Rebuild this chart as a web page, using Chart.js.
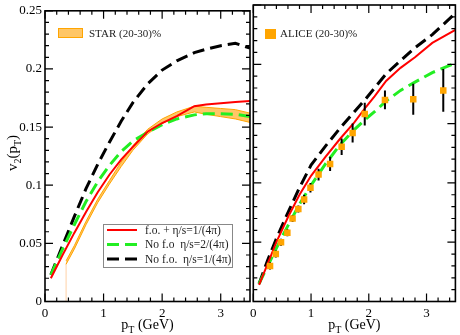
<!DOCTYPE html>
<html>
<head>
<meta charset="utf-8">
<script src="https://cdn.jsdelivr.net/npm/chart.js@4.4.1/dist/chart.umd.min.js"></script>
<style>
html,body{margin:0;padding:0;background:#fff;overflow:hidden}
#wrap{position:relative;width:460px;height:335px}
canvas{position:absolute;left:0;top:0}
</style>
</head>
<body>
<div id="wrap">
<canvas id="cL" width="460" height="335"></canvas>
<canvas id="cR" width="460" height="335"></canvas>
</div>
<script>
// ---------------- DATA ----------------
// tick values / labels
const xTickVals = [0, 1, 2, 3];
const xTickLabels = ['0', '1', '2', '3'];
const yTickVals = [0, 0.05, 0.1, 0.15, 0.2, 0.25];
const yTickLabels = ['0', '0.05', '0.1', '0.15', '0.2', '0.25'];

// left panel (STAR comparison) theory curves
const leftPt    = [0.1, 0.3, 0.5, 0.7, 0.9, 1.1, 1.3, 1.5, 1.75, 2.0, 2.25, 2.55, 2.75, 3.0, 3.25, 3.5];
const leftRed   = [0.020, 0.040, 0.059, 0.077, 0.094, 0.109, 0.122, 0.133, 0.146, 0.1535, 0.1595, 0.168, 0.1695, 0.1705, 0.1715, 0.1725];
const leftGreen = [0.023, 0.045, 0.066, 0.086, 0.103, 0.117, 0.129, 0.138, 0.1455, 0.152, 0.157, 0.1605, 0.1615, 0.1615, 0.161, 0.159];
const leftBlack = [0.023, 0.048, 0.073, 0.097, 0.118, 0.137, 0.155, 0.171, 0.187, 0.199, 0.207, 0.214, 0.217, 0.220, 0.222, 0.218];

// STAR (20-30)% band
const starPt = [0.36, 0.5, 0.7, 0.9, 1.1, 1.3, 1.5, 1.75, 2.0, 2.25, 2.55, 2.75, 3.0, 3.25, 3.5];
const starLo = [0.032, 0.045, 0.066, 0.085, 0.101, 0.116, 0.130, 0.144, 0.153, 0.159, 0.163, 0.161, 0.159, 0.157, 0.154];
const starHi = [0.035, 0.048, 0.069, 0.088, 0.104, 0.120, 0.134, 0.148, 0.157, 0.163, 0.168, 0.167, 0.166, 0.165, 0.162];
const starEdgePt = [0.36, 0.36];
const starEdgeV  = [0, 0.033];

// right panel (ALICE comparison) theory curves
const rightPt    = [0.1, 0.25, 0.4, 0.6, 0.8, 1.0, 1.25, 1.5, 1.75, 1.95, 2.1, 2.3, 2.55, 2.8, 3.1, 3.5];
const rightRed   = [0.014, 0.032, 0.050, 0.071, 0.090, 0.106, 0.122, 0.137, 0.151, 0.164, 0.173, 0.186, 0.197, 0.206, 0.218, 0.229];
const rightGreen = [0.015, 0.030, 0.045, 0.064, 0.082, 0.098, 0.116, 0.132, 0.145, 0.154, 0.160, 0.169, 0.178, 0.185, 0.193, 0.201];
const rightBlack = [0.015, 0.035, 0.053, 0.075, 0.096, 0.115, 0.131, 0.146, 0.160, 0.171, 0.180, 0.192, 0.203, 0.214, 0.225, 0.243];

// ALICE (20-30)% data
const alicePt  = [0.29, 0.39, 0.48, 0.59, 0.68, 0.78, 0.88, 0.99, 1.13, 1.33, 1.53, 1.72, 1.93, 2.28, 2.77, 3.29];
const aliceV   = [0.030, 0.040, 0.050, 0.058, 0.070, 0.078, 0.086, 0.096, 0.107, 0.116, 0.1305, 0.142, 0.158, 0.170, 0.1705, 0.178];
const aliceErr = [0.003, 0.003, 0.003, 0.003, 0.003, 0.003, 0.004, 0.004, 0.005, 0.006, 0.007, 0.008, 0.0095, 0.008, 0.013, 0.018];

// legend texts
const lineLabels = ['f.o. + \u03B7/s=1/(4\u03C0)', 'No f.o  \u03B7/s=2/(4\u03C0)', 'No f.o.  \u03B7/s=1/(4\u03C0)'];
const starLabel = 'STAR (20-30)%';
const aliceLabel = 'ALICE (20-30)%';

// ---------------- STYLE ----------------
const FONT = "'Liberation Serif','Times New Roman',serif";
const X_MINOR = 0.2, Y_MINOR = 0.01, MAJOR_LEN = 8, MINOR_LEN = 4;
const RED = '#ff0000', GREEN = '#22ee22', BLACK = '#000000', ORANGE = '#ffa500';
const BAND_FILL = 'rgba(255,160,0,0.6)';
const LEG_FONT = 11;

const zip = (xs, ys) => xs.map((x, i) => ({x: x, y: ys[i]}));

function lineDs(label, xs, ys, color, width, dash, order) {
  return {label: label, data: zip(xs, ys), borderColor: color, backgroundColor: color,
    borderWidth: width, borderDash: dash, pointRadius: 0, tension: 0, fill: false, order: order};
}

const framePlugin = {
  id: 'frameTicks',
  afterDraw(chart) {
    const ctx = chart.ctx, a = chart.chartArea;
    const xs = chart.scales.x, ys = chart.scales.y;
    ctx.save();
    ctx.strokeStyle = '#000';
    ctx.lineWidth = 1.2;
    ctx.beginPath();
    const nx = Math.floor((xs.max - xs.min) / X_MINOR + 1e-6);
    for (let i = 0; i <= nx; i++) {
      const v = xs.min + i * X_MINOR;
      const L = (i % 5 === 0) ? MAJOR_LEN : MINOR_LEN;
      const p = xs.getPixelForValue(v);
      ctx.moveTo(p, a.bottom); ctx.lineTo(p, a.bottom - L);
      ctx.moveTo(p, a.top); ctx.lineTo(p, a.top + L);
    }
    const ny = Math.floor((ys.max - ys.min) / Y_MINOR + 1e-6);
    for (let i = 0; i <= ny; i++) {
      const v = ys.min + i * Y_MINOR;
      const L = (i % 5 === 0) ? MAJOR_LEN : MINOR_LEN;
      const p = ys.getPixelForValue(v);
      ctx.moveTo(a.left, p); ctx.lineTo(a.left + L, p);
      ctx.moveTo(a.right, p); ctx.lineTo(a.right - L, p);
    }
    ctx.stroke();
    ctx.lineWidth = 1.6;
    ctx.strokeRect(a.left, a.top, a.right - a.left, a.bottom - a.top);
    ctx.restore();
  }
};

function drawSubText(ctx, parts, x, y, size, subSize, align) {
  // parts: [text, isSub]
  let w = 0;
  parts.forEach(p => { ctx.font = (p[1] ? subSize : size) + 'px ' + FONT; w += ctx.measureText(p[0]).width; });
  let cx = align === 'center' ? x - w / 2 : x;
  parts.forEach(p => {
    ctx.font = (p[1] ? subSize : size) + 'px ' + FONT;
    ctx.fillText(p[0], cx, p[1] ? y + 4 : y);
    cx += ctx.measureText(p[0]).width;
  });
}

function xTitle(chart) {
  const ctx = chart.ctx, a = chart.chartArea;
  ctx.save();
  ctx.fillStyle = '#000';
  ctx.textBaseline = 'alphabetic';
  drawSubText(ctx, [['p', false], ['T', true], [' (GeV)', false]], (a.left + a.right) / 2, 329, 14, 10, 'center');
  ctx.restore();
}

function yAxisScales(hide) {
  return {
    type: 'linear', min: 0, max: 0.25, display: !hide,
    afterFit: s => { s.width = hide ? 0 : 45; },
    afterBuildTicks: s => { s.ticks = yTickVals.map(v => ({value: v})); },
    grid: {display: false, drawTicks: false}, border: {display: false},
    ticks: {padding: 3, color: '#000', font: {family: FONT, size: 13},
      callback: (v, i) => yTickLabels[i]}
  };
}
function xAxisScale() {
  return {
    type: 'linear', min: 0, max: 3.5,
    afterFit: s => { s.height = 33.5; },
    afterBuildTicks: s => { s.ticks = xTickVals.map(v => ({value: v})); },
    grid: {display: false, drawTicks: false}, border: {display: false},
    ticks: {padding: 4, color: '#000', maxRotation: 0, font: {family: FONT, size: 13},
      callback: (v, i) => xTickLabels[i]}
  };
}

// ---------------- LEFT PANEL ----------------
const leftDecor = {
  id: 'leftDecor',
  afterDraw(chart) {
    const ctx = chart.ctx;
    const ds = chart.data.datasets;
    ctx.save();
    // y title v2(pT)
    ctx.translate(17, 153);
    ctx.rotate(-Math.PI / 2);
    ctx.fillStyle = '#000';
    drawSubText(ctx, [['v', false], ['2', true], ['(p', false], ['T', true], [')', false]], 0, 0, 15, 10, 'center');
    ctx.restore();
    xTitle(chart);
    ctx.save();
    // STAR legend swatch
    ctx.fillStyle = BAND_FILL;
    ctx.fillRect(58, 28, 25, 10);
    ctx.strokeStyle = ORANGE; ctx.lineWidth = 1;
    ctx.strokeRect(58.5, 28.5, 24, 9);
    ctx.fillStyle = '#222';
    ctx.font = LEG_FONT + 'px ' + FONT;
    ctx.textBaseline = 'middle';
    ctx.fillText(starLabel, 89, 34);
    // lines legend box
    ctx.strokeStyle = '#888'; ctx.lineWidth = 1;
    ctx.strokeRect(103.5, 224.5, 129, 43);
    const entries = [ds[5], ds[4], ds[3]];
    const ys = [230, 244.5, 259];
    entries.forEach((d, i) => {
      ctx.strokeStyle = d.borderColor;
      ctx.lineWidth = d.borderWidth;
      ctx.setLineDash(d.borderDash || []);
      ctx.beginPath(); ctx.moveTo(107, ys[i]); ctx.lineTo(137, ys[i]); ctx.stroke();
      ctx.setLineDash([]);
      ctx.fillStyle = '#222';
      ctx.font = (LEG_FONT + 0.5) + 'px ' + FONT;
      ctx.fillText(lineLabels[i], 145, ys[i] + 0.5);
    });
    ctx.restore();
  }
};

new Chart(document.getElementById('cL'), {
  type: 'line',
  data: {datasets: [
    {label: 'STAR low', data: zip(starPt, starLo), borderColor: ORANGE, borderWidth: 1, pointRadius: 0, fill: false, order: 6},
    {label: starLabel, data: zip(starPt, starHi), borderColor: ORANGE, borderWidth: 1, pointRadius: 0, fill: '-1', backgroundColor: BAND_FILL, order: 5},
    {label: 'STAR edge', data: zip(starEdgePt, starEdgeV), borderColor: 'rgba(255,190,130,0.7)', borderWidth: 1, pointRadius: 0, fill: false, order: 7},
    lineDs(lineLabels[2], leftPt, leftBlack, BLACK, 3, [12, 6], 3),
    lineDs(lineLabels[1], leftPt, leftGreen, GREEN, 3, [12, 6], 2),
    lineDs(lineLabels[0], leftPt, leftRed, RED, 2, [], 1)
  ]},
  options: {
    responsive: false, animation: false, devicePixelRatio: 1,
    layout: {padding: {left: 0, right: 210, top: 5, bottom: 0}},
    scales: {x: xAxisScale(), y: yAxisScales(false)},
    plugins: {legend: {display: false}, tooltip: {enabled: false}}
  },
  plugins: [framePlugin, leftDecor]
});

// ---------------- RIGHT PANEL ----------------
const aliceIndex = 3;
const rightDecor = {
  id: 'rightDecor',
  beforeDatasetDraw(chart, args) {
    if (args.index !== aliceIndex) return;
    const ctx = chart.ctx, xs = chart.scales.x, ys = chart.scales.y;
    ctx.save();
    ctx.strokeStyle = '#000';
    ctx.lineWidth = 2;
    ctx.beginPath();
    alicePt.forEach((p, i) => {
      const px = xs.getPixelForValue(p);
      ctx.moveTo(px, ys.getPixelForValue(aliceV[i] - aliceErr[i]));
      ctx.lineTo(px, ys.getPixelForValue(aliceV[i] + aliceErr[i]));
    });
    ctx.stroke();
    ctx.restore();
  },
  afterDraw(chart) {
    const ctx = chart.ctx;
    xTitle(chart);
    ctx.save();
    ctx.fillStyle = ORANGE;
    ctx.fillRect(265, 29, 11, 10);
    ctx.fillStyle = '#222';
    ctx.font = LEG_FONT + 'px ' + FONT;
    ctx.textBaseline = 'middle';
    ctx.fillText(aliceLabel, 280, 34);
    ctx.restore();
  }
};

new Chart(document.getElementById('cR'), {
  type: 'line',
  data: {datasets: [
    lineDs(lineLabels[2], rightPt, rightBlack, BLACK, 3, [12, 6], 3),
    lineDs(lineLabels[1], rightPt, rightGreen, GREEN, 3, [12, 6], 2),
    lineDs(lineLabels[0], rightPt, rightRed, RED, 2, [], 1),
    {label: aliceLabel, data: zip(alicePt, aliceV), showLine: false, pointStyle: 'rect',
      pointRadius: 4.6, pointBackgroundColor: ORANGE, pointBorderColor: ORANGE, pointBorderWidth: 0, order: 0}
  ]},
  options: {
    responsive: false, animation: false, devicePixelRatio: 1,
    layout: {padding: {left: 253.3, right: 2.3, top: 5, bottom: 0}},
    scales: {x: xAxisScale(), y: yAxisScales(true)},
    plugins: {legend: {display: false}, tooltip: {enabled: false}}
  },
  plugins: [framePlugin, rightDecor]
});
</script>
</body>
</html>
